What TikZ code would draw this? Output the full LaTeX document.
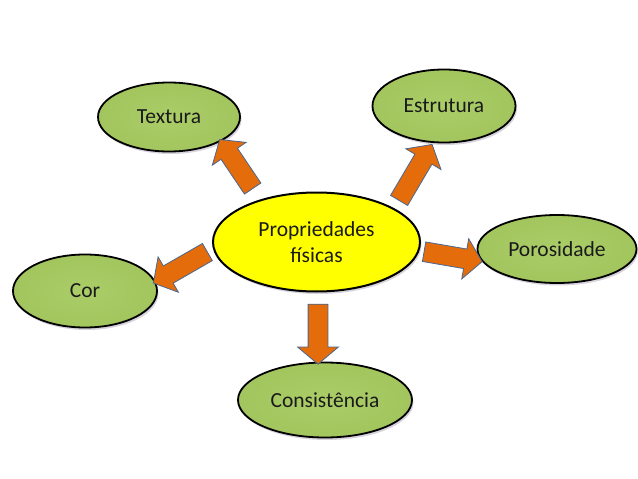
\documentclass[tikz,border=0pt]{standalone}
\usepackage{fontspec}
\setmainfont{Carlito}
\usetikzlibrary{shapes.geometric,shapes.arrows,shadows,calc}
\definecolor{leaf}{HTML}{A3C55E}
\definecolor{leafin}{HTML}{ABCD68}
\definecolor{sun}{HTML}{FFFF00}
\definecolor{rust}{HTML}{E46C0A}
\definecolor{steel}{HTML}{4A6791}
\definecolor{ink}{HTML}{1A1A1A}
\definecolor{haze}{HTML}{9A90A8}
\tikzset{
  bubble/.style={ellipse, draw=black, line width=1.8pt, inner sep=0pt,
    inner color=leafin, outer color=leaf,
    text=ink, font=\fontsize{21.5}{26}\selectfont,
    drop shadow={shadow xshift=1.5pt, shadow yshift=-2.5pt, opacity=0.4, fill=haze}},
  hub/.style={bubble, inner color=sun, outer color=sun, line width=2pt},
  blockarr/.style={single arrow, draw=steel, line width=0.8pt, fill=rust,
    inner xsep=0pt, inner ysep=9.5pt, single arrow head extend=10.5pt,
    single arrow tip angle=100, sloped, allow upside down}
}
\newcommand\blockto[2]{\path let \p1=($(#2)-(#1)$), \n1={veclen(\x1,\y1)} in
  (#1) -- node[blockarr, minimum height=\n1] {} (#2);}
\begin{document}
\begin{tikzpicture}[x=1pt,y=-1pt]
\useasboundingbox (0,0) rectangle (638,479);
\node[hub, minimum width=207pt, minimum height=99pt, align=center] (c) at (316.5,242) {Propriedades\\físicas};
\node[bubble, minimum width=142pt, minimum height=69pt] (tex) at (169,117) {Textura};
\node[bubble, minimum width=143pt, minimum height=73pt] (est) at (444,106) {Estrutura};
\node[bubble, minimum width=159pt, minimum height=68pt] (por) at (557,249) {Porosidade};
\node[bubble, minimum width=144pt, minimum height=73pt] (cor) at (85,291) {Cor};
\node[bubble, minimum width=174pt, minimum height=75pt] (con) at (325,400) {Consistência};
\coordinate (t1) at (255,192); \coordinate (h1) at (222,143);
\coordinate (t2) at (397,204); \coordinate (h2) at (430,148);
\coordinate (t3) at (420,251); \coordinate (h3) at (478,261);
\coordinate (t4) at (211,250); \coordinate (h4) at (157,281);
\coordinate (t5) at (318,300); \coordinate (h5) at (318,360);
\blockto{t1}{h1}
\blockto{t2}{h2}
\blockto{t3}{h3}
\blockto{t4}{h4}
\blockto{t5}{h5}
\end{tikzpicture}
\end{document}
